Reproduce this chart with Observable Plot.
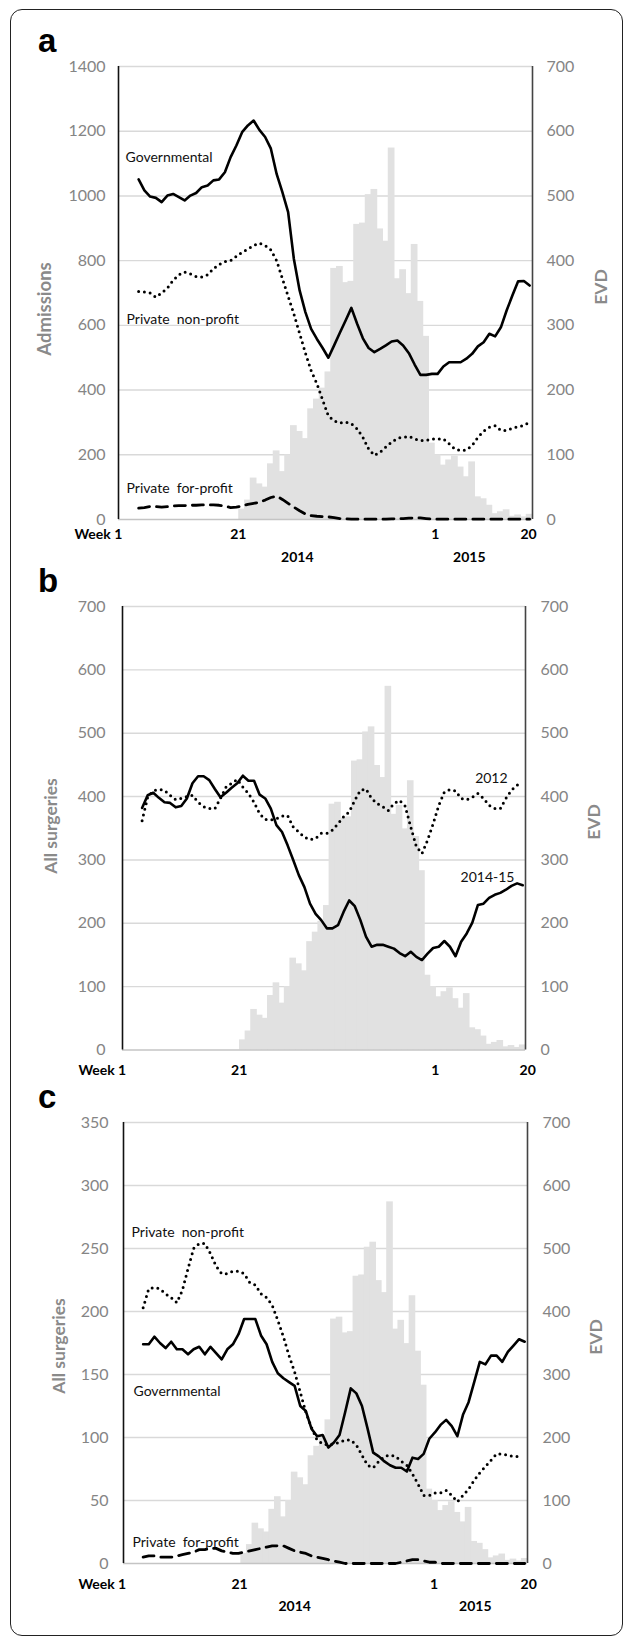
<!DOCTYPE html>
<html><head><meta charset="utf-8">
<script src="https://cdn.jsdelivr.net/npm/d3@7"></script>
<script src="https://cdn.jsdelivr.net/npm/@observablehq/plot@0.6"></script>
<style>
body{margin:0;background:#fff;}
#wrap{position:relative;width:627px;height:1638px;overflow:hidden;font-family:Lato,"Open Sans",sans-serif;}
#frame{position:absolute;left:10px;top:9px;width:613px;height:1627px;border:1.5px solid #222;border-radius:12px;box-sizing:border-box;}
.panel{position:absolute;left:0;}
.letter{position:absolute;left:38px;font-family:"Liberation Sans",Arial,sans-serif;font-weight:bold;font-size:33px;line-height:33px;color:#000;}
.ytitle{position:absolute;font-family:Lato,sans-serif;font-weight:bold;font-size:17.5px;color:#8a8a8a;white-space:nowrap;transform:translate(-50%,-50%) rotate(-90deg);}
</style></head><body><div id="wrap"><div id="frame"></div></div>
<script>
// ---------- data ----------
const lineWeeks = d3.range(4, 73);   // week index: 1..52 = 2014 wk1..52, 53..72 = 2015 wk1..20
const evdWeeks = d3.range(22, 73);
const evdCases = [16,30,64,55,50,86,106,74,100,145,136,125,171,186,203,228,388,391,366,368,456,458,502,510,449,430,574,372,386,349,425,337,283,118,100,84,92,98,81,66,89,35,32,22,9,12,15,5,7,4,8];

const aGovernmental = [1051,1017,998,994,981,1001,1006,996,986,1001,1009,1027,1032,1048,1051,1073,1120,1156,1197,1218,1233,1204,1182,1146,1068,1012,950,805,708,641,589,558,530,500,538,577,615,654,605,560,530,517,527,538,550,553,538,514,479,447,447,450,450,473,486,486,486,497,512,535,548,574,566,594,646,692,736,737,723];
const aNonProfit = [705,703,700,687,700,715,739,756,765,759,751,749,756,775,788,797,800,813,826,836,847,854,847,833,800,745,690,635,575,515,460,420,370,320,305,298,301,296,280,254,218,198,208,224,239,251,254,257,249,244,244,249,249,249,234,218,213,215,229,254,273,285,290,275,275,282,287,290,301];
const aForProfit = [35,37,40,40,38,40,42,43,43,44,44,45,45,45,44,41,37,38,42,47,50,53,60,68,72,62,50,38,27,17,12,10,9,8,6,3,2,1,1,1,1,1,1,1,2,2,3,4,5,5,3,1,1,1,1,1,1,1,1,1,1,1,1,1,1,1,1,1,1];

const bSurgeries2014 = [382,402,406,398,391,390,383,385,397,421,432,432,426,412,399,406,414,421,433,425,425,403,397,381,355,344,323,300,276,257,231,215,205,192,192,197,218,236,227,205,179,163,166,166,163,160,153,148,155,147,142,152,161,163,172,163,148,171,184,201,229,231,240,245,248,253,259,263,260];
const bSurgeries2012 = [362,399,409,411,410,402,395,397,400,402,391,384,381,381,397,415,421,427,415,405,391,373,364,363,365,369,370,352,344,336,332,334,342,342,347,357,368,376,394,410,412,397,389,384,378,389,394,385,352,321,310,331,357,386,407,411,409,397,395,399,405,397,386,381,381,397,410,418,421];

const cGovernmental = [174,174,180,175,171,176,170,170,166,170,172,166,172,167,162,170,174,182,194,194,194,181,174,160,151,147,144,141,125,121,107,101,102,92,96,102,120,139,135,125,107,88,85,81,78,76,76,73,84,83,87,99,104,110,114,109,101,118,128,144,160,158,165,165,160,168,173,178,176];
const cNonProfit = [203,218,219,218,214,211,207,217,234,250,254,254,246,236,230,230,232,232,230,223,221,214,211,205,193,180,165,152,136,120,108,98,95,94,95,96,98,98,94,86,78,76,81,85,86,85,81,78,71,63,54,54,56,56,58,54,49,54,59,66,72,77,82,87,87,86,85,85,null];
const cForProfit = [5,6,6,5,5,5,6,7,8,9,11,11,12,12,10,9,8,8,9,10,11,12,13,14,14,14,12,10,9,8,6,5,4,3,2,1,0,0,0,0,0,0,0,0,0,0,1,2,3,3,2,1,1,0,0,0,0,0,0,0,0,0,0,0,0,0,0,0,0];

const aTicks = [0,200,400,600,800,1000,1200,1400];
const bTicks = [0,100,200,300,400,500,600,700];
const cTicks = [0,50,100,150,200,250,300,350];
const xTickWeeks = [1,21,53,72];
const xTickLabels = ["Week 1","21","1","20"];
const yearLabels = ["2014","2015"];

// ---------- drawing ----------
const STYLES = {
  solid: {strokeWidth: 2.6},
  dotted: {strokeWidth: 3, strokeDasharray: "0,5.8", strokeLinecap: "round"},
  dashed: {strokeWidth: 2.8, strokeDasharray: "11,7"}
};
const wrap = document.getElementById("wrap");

function drawPanel(cfg) {
  const f = cfg.yMax / 700;
  const bars = evdWeeks.map((w, k) => ({w, v: evdCases[k] * f}));
  const marks = [
    Plot.ruleY(cfg.ticks.filter(t => t > 0), {stroke: "#d9d9d9", strokeWidth: 1.4}),
    Plot.rect(bars, {x1: d => d.w - 0.5, x2: d => d.w + 0.5, y1: d => 0, y2: "v", fill: "#e1e1e1", insetLeft: -0.5, insetRight: -0.5}),
    Plot.ruleY([0], {stroke: "#c4c4c4", strokeWidth: 1.4}),
    Plot.ruleX([0.5], {stroke: "#111", strokeWidth: 1.6}),
    Plot.ruleX([72.5], {stroke: "#444", strokeWidth: 1.6})
  ];
  for (const s of cfg.series) {
    const rows = lineWeeks.map((w, k) => ({w, v: s.values[k]})).filter(d => d.v != null);
    marks.push(Plot.line(rows, {x: "w", y: "v", stroke: "#000", ...STYLES[s.style]}));
  }
  marks.push(
    Plot.axisY(cfg.ticks, {anchor: "left", tickSize: 0, tickPadding: cfg.padL, label: null, tickFormat: d => String(d), color: "#858585", fontSize: 16}),
    Plot.axisY(cfg.ticks, {anchor: "right", tickSize: 0, tickPadding: cfg.padR, label: null, tickFormat: d => String(d / f), color: "#858585", fontSize: 16})
  );
  xTickWeeks.forEach((w, k) => {
    marks.push(Plot.text([w], {x: d => d, y: d => 0, text: d => xTickLabels[k], dx: cfg.tickDx[k], dy: cfg.tickDy,
      fontWeight: "bold", fontSize: 14, fill: "#000"}));
  });
  if (cfg.years) {
    marks.push(Plot.text(cfg.years, {x: d => d, y: d => 0, text: (d, i) => yearLabels[i], dy: cfg.yearDy,
      fontWeight: "bold", fontSize: 14, fill: "#000"}));
  }
  marks.push(Plot.text(cfg.labels, {x: "x", y: "y", text: "t", textAnchor: "start", fontSize: 14, fill: "#111"}));

  const svg = Plot.plot({
    width: 627, height: cfg.height,
    marginTop: cfg.mt, marginBottom: cfg.mb, marginLeft: cfg.ml, marginRight: cfg.mr,
    x: {domain: [0.5, 72.5], axis: null},
    y: {domain: [0, cfg.yMax], axis: null},
    style: {fontFamily: "Lato, 'Open Sans', sans-serif", fontSize: "16px", background: "transparent", overflow: "visible"},
    marks
  });
  const holder = document.createElement("div");
  holder.className = "panel";
  holder.style.top = cfg.top + "px";
  holder.appendChild(svg);
  wrap.appendChild(holder);

  const letter = document.createElement("div");
  letter.className = "letter";
  letter.style.top = cfg.letterTop + "px";
  letter.textContent = cfg.letter;
  wrap.appendChild(letter);

  for (const t of cfg.titles) {
    const d = document.createElement("div");
    d.className = "ytitle";
    d.style.left = t.cx + "px";
    d.style.top = t.cy + "px";
    if (t.size) d.style.fontSize = t.size + "px";
    d.textContent = t.text;
    wrap.appendChild(d);
  }
}

const SP = "\u00a0 ";
drawPanel({
  letter: "a", letterTop: 24, top: 0, height: 580, mt: 66, mb: 61, ml: 118, mr: 95,
  yMax: 1400, ticks: aTicks, padL: 13, padR: 14, tickDx: [-23, 2, 15, -1], tickDy: 15,
  years: [31.6, 61.5], yearDy: 38,
  series: [
    {values: aGovernmental, style: "solid"},
    {values: aNonProfit, style: "dotted"},
    {values: aForProfit, style: "dashed"}
  ],
  labels: [
    {x: 1.72, y: 1119, t: "Governmental"},
    {x: 1.9, y: 618, t: "Private" + SP + "non-profit"},
    {x: 1.9, y: 96, t: "Private" + SP + "for-profit"}
  ],
  titles: [{text: "Admissions", cx: 44, cy: 309, size: 18.5}, {text: "EVD", cx: 600, cy: 287}]
});
drawPanel({
  letter: "b", letterTop: 564, top: 580, height: 515, mt: 26, mb: 45.5, ml: 122, mr: 102,
  yMax: 700, ticks: bTicks, padL: 17, padR: 15, tickDx: [-23, 2, 19, 5], tickDy: 21,
  series: [
    {values: bSurgeries2012, style: "dotted"},
    {values: bSurgeries2014, style: "solid"}
  ],
  labels: [
    {x: 63.5, y: 428, t: "2012"},
    {x: 60.9, y: 272, t: "2014-15"}
  ],
  titles: [{text: "All surgeries", cx: 50, cy: 826}, {text: "EVD", cx: 593, cy: 822}]
});
drawPanel({
  letter: "c", letterTop: 1080, top: 1095, height: 543, mt: 27, mb: 75, ml: 123, mr: 100,
  yMax: 350, ticks: cTicks, padL: 15, padR: 15, tickDx: [-24, 1, 16, 4], tickDy: 21,
  years: [31.0, 63.2], yearDy: 43,
  series: [
    {values: cGovernmental, style: "solid"},
    {values: cNonProfit, style: "dotted"},
    {values: cForProfit, style: "dashed"}
  ],
  labels: [
    {x: 1.93, y: 263, t: "Private" + SP + "non-profit"},
    {x: 2.28, y: 136.5, t: "Governmental"},
    {x: 2.1, y: 16.7, t: "Private" + SP + "for-profit"}
  ],
  titles: [{text: "All surgeries", cx: 58, cy: 1346}, {text: "EVD", cx: 595, cy: 1337}]
});
</script></body></html>
